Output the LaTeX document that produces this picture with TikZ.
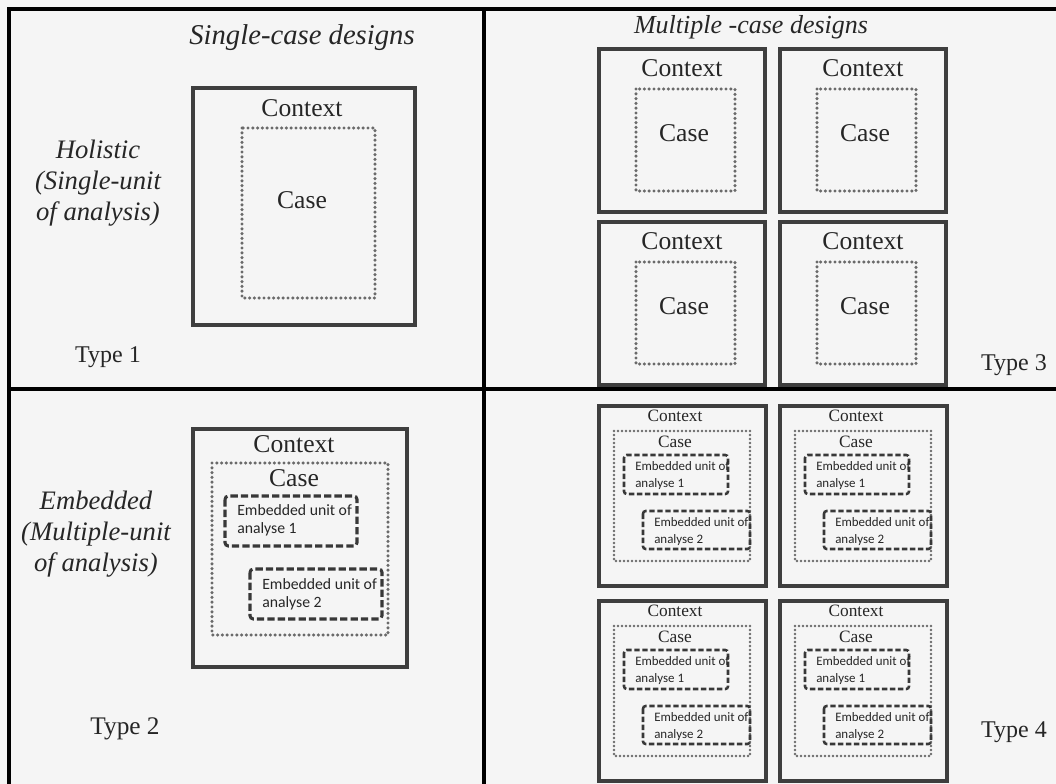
\documentclass[tikz,border=0pt]{standalone}
\usepackage{fontspec}
\setmainfont{Liberation Serif}
\newfontfamily\calib{Carlito}
\definecolor{bg}{HTML}{F5F5F5}
\definecolor{ink}{HTML}{262626}
\definecolor{boxc}{HTML}{3E3E3E}
\definecolor{dotc}{HTML}{6A6A6A}
\definecolor{dashc}{HTML}{383838}

\newcommand\panelthree[3]{%
  \begin{scope}[shift={(#2,#3)}]
    \draw[ctx] (0,0) rectangle (166,163);
    \draw[casebox] (37,40) rectangle (136,142);
    \node[big] (#1ctx) at (83,19) {Context};
    \node[big] (#1case) at (85,84) {Case};
  \end{scope}}

\newcommand\panelfour[3]{%
  \begin{scope}[shift={(#2,#3)}]
    \draw[ctx] (0,0) rectangle (167,180);
    \draw[casesm] (15,25) rectangle (151,155);
    \draw[embsm] (25,49) rectangle (129,88);
    \draw[embsm] (44,105) rectangle (151,143);
    \node[mid] (#1ctx) at (76,10) {Context};
    \node[mid] (#1case) at (76,36) {Case};
    \node[smemb,anchor=west] (#1ua) at (36,70) {Embedded unit of\\analyse 1};
    \node[smemb,anchor=west] (#1ub) at (55,126) {Embedded unit of\\analyse 2};
  \end{scope}}

\begin{document}
\begin{tikzpicture}[x=0.75pt,y=-0.75pt,
  ctx/.style={draw=boxc,line width=2.3pt},
  casebox/.style={draw=dotc,line width=2.6pt,dash pattern=on 0pt off 3.6pt,line cap=round},
  casesm/.style={draw=dotc,line width=2.1pt,dash pattern=on 0pt off 3pt,line cap=round},
  embbox/.style={draw=dashc,line width=2.3pt,dash pattern=on 5.5pt off 2.3pt,rounded corners=2.5pt},
  embsm/.style={draw=dashc,line width=1.9pt,dash pattern=on 4pt off 2pt,rounded corners=2pt},
  lbl/.style={text=ink,inner sep=0pt},
  big/.style={lbl,font=\fontsize{19.2}{23}\selectfont},
  mid/.style={lbl,font=\fontsize{13}{15}\selectfont},
  embt/.style={lbl,align=left,font=\calib\fontsize{11.8}{13.5}\selectfont},
  smemb/.style={lbl,align=left,font=\calib\fontsize{9.7}{12.7}\selectfont},
  ital/.style={lbl,align=center,font=\itshape\fontsize{20}{23.5}\selectfont},
  typel/.style={lbl,font=\fontsize{18}{21}\selectfont},
  frame/.style={draw=black,line width=3pt}]
\useasboundingbox (0,0) rectangle (1056,784);
\fill[bg] (0,0) rectangle (1056,784);

% frame
\draw[frame] (9,784) -- (9,9) -- (1056,9);
\draw[frame] (484,9) -- (484,784);
\draw[frame] (9,389) -- (1056,389);

% headings
\node[lbl,font=\itshape\fontsize{21.5}{25}\selectfont] (hsingle) at (302,38) {Single-case designs};
\node[lbl,font=\itshape\fontsize{19.5}{23}\selectfont] (hmulti) at (751,27) {Multiple -case designs};

% row labels
\node[ital] (holistic) at (98,183) {Holistic\\(Single-unit\\of analysis)};
\node[ital] (embedded) at (96,534) {Embedded\\(Multiple-unit\\of analysis)};

% type labels
\node[typel] (t1) at (108,357) {Type 1};
\node[typel,font=\fontsize{19}{22}\selectfont] (t2) at (125,729) {Type 2};
\node[typel] (t3) at (1014,365) {Type 3};
\node[typel] (t4) at (1014,732) {Type 4};

% Type 1
\draw[ctx] (193,88) rectangle (415,325);
\draw[casebox] (242,128) rectangle (375,298);
\node[big] (c1ctx) at (302,108) {Context};
\node[big] (c1case) at (302,200) {Case};

% Type 2
\draw[ctx] (193,429) rectangle (407,667);
\draw[casebox] (212,463) rectangle (388,635);
\draw[embbox] (225,496) rectangle (357,546);
\draw[embbox] (250,569) rectangle (382,619);
\node[big] (c2ctx) at (294,444) {Context};
\node[big] (c2case) at (294,478) {Case};
\node[embt,anchor=west] (c2ua) at (237,520) {Embedded unit of\\analyse 1};
\node[embt,anchor=west] (c2ub) at (262,594) {Embedded unit of\\analyse 2};

% Type 3
\panelthree{pa}{599}{49}
\panelthree{pb}{780}{49}
\panelthree{pc}{599}{222}
\panelthree{pd}{780}{222}

% Type 4
\panelfour{qa}{599}{406}
\panelfour{qb}{780}{406}
\panelfour{qc}{599}{601}
\panelfour{qd}{780}{601}
\end{tikzpicture}
\end{document}
